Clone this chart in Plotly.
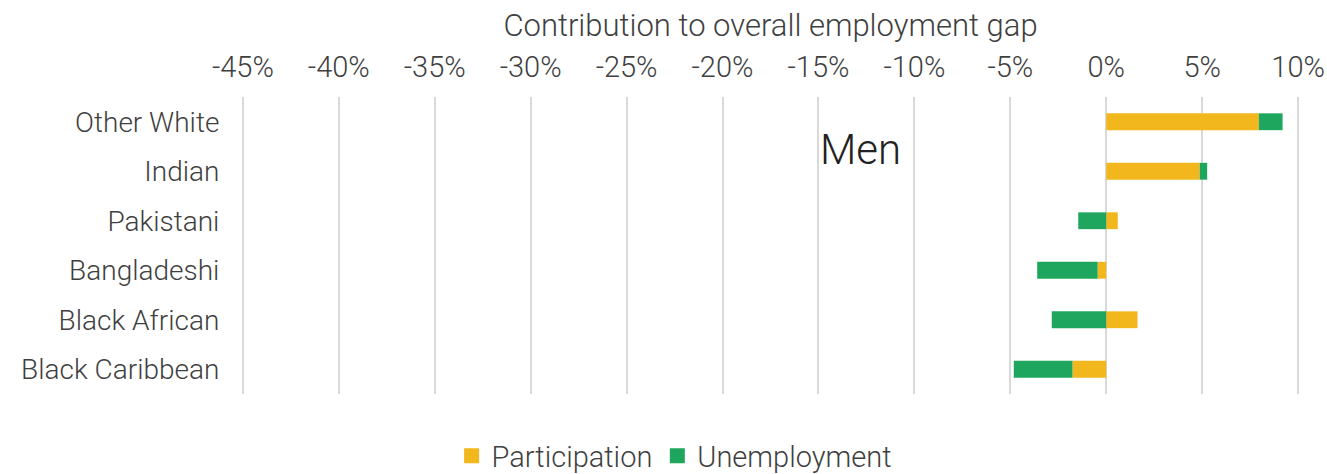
import plotly.graph_objects as go

# Ethnic groups, top to bottom
groups = ["Other White", "Indian", "Pakistani", "Bangladeshi", "Black African", "Black Caribbean"]

# Contribution to overall employment gap (percentage points)
participation = [7.95, 4.87, 0.6, -0.45, 1.63, -1.76]
unemployment = [1.24, 0.39, -1.46, -3.15, -2.84, -3.06]

tick_values = [-45, -40, -35, -30, -25, -20, -15, -10, -5, 0, 5, 10]

FONT = "Roboto"
TEXT = "#3f3f3f"
YELLOW = "#F2B71C"
GREEN = "#1FA65E"

fig = go.Figure()
fig.add_trace(go.Bar(
    y=groups, x=participation, name="Participation", orientation="h",
    marker=dict(color=YELLOW, line=dict(width=0)), width=0.34, showlegend=False,
))
fig.add_trace(go.Bar(
    y=groups, x=unemployment, name="Unemployment", orientation="h",
    marker=dict(color=GREEN, line=dict(width=0)), width=0.34, showlegend=False,
))

# legend keys with larger square swatches
for name, color in [("Participation", YELLOW), ("Unemployment", GREEN)]:
    fig.add_trace(go.Scatter(
        x=[None], y=[None], mode="markers", name=name,
        marker=dict(symbol="square", size=15, color=color),
    ))

fig.add_annotation(
    x=-12.8, y=0.57, xref="x", yref="y", text="Men", showarrow=False,
    font=dict(family=FONT, size=42, color="#222222", weight=300),
    bgcolor="white", borderpad=0,
)

fig.update_layout(
    width=1327, height=474,
    barmode="relative",
    paper_bgcolor="white", plot_bgcolor="white",
    margin=dict(l=240, r=26, t=97, b=80),
    font=dict(family=FONT, size=28, color=TEXT, weight=300),
    legend=dict(
        orientation="h", xref="container", yref="container",
        x=0.508, xanchor="center", y=0.038, yanchor="middle",
        font=dict(family=FONT, size=29, color=TEXT, weight=300),
        itemsizing="trace", itemwidth=30, traceorder="normal",
    ),
    xaxis=dict(
        side="top", range=[-45.15, 10.15], tickvals=tick_values,
        ticktext=[f"{v}%" for v in tick_values],
        showgrid=True, gridcolor="#d9d9d9", gridwidth=2,
        zeroline=True, zerolinecolor="#d9d9d9", zerolinewidth=2,
        showline=False, ticks="outside", ticklen=7, tickcolor="rgba(0,0,0,0)",
        title=dict(text="Contribution to overall employment gap",
                   font=dict(family=FONT, size=31, color=TEXT, weight=300), standoff=4),
        tickfont=dict(size=29), automargin=False,
    ),
    yaxis=dict(
        categoryorder="array", categoryarray=groups, autorange="reversed",
        showgrid=False, showline=False, zeroline=False, ticks="outside", ticklen=14,
        tickcolor="rgba(0,0,0,0)", tickfont=dict(size=28), automargin=False,
    ),
)

fig.write_html("out.html")
